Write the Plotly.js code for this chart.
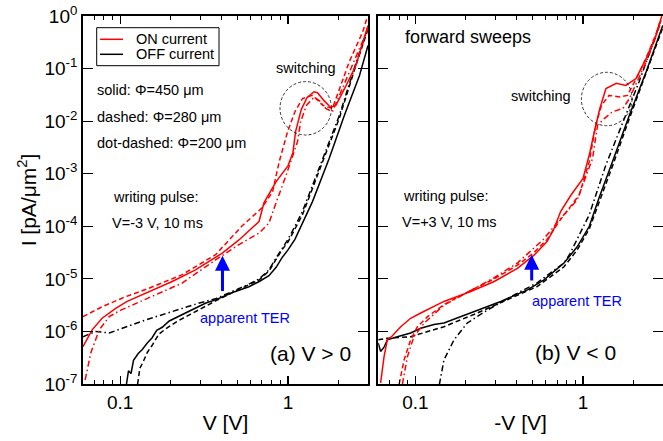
<!DOCTYPE html>
<html><head><meta charset="utf-8">
<script src="https://cdn.plot.ly/plotly-3.0.1.min.js"></script>
<style>body{margin:0;padding:0;background:#fff}#chart{width:663px;height:441px}</style>
</head><body><div id="chart"></div>
<script>
// ---------- Panel (a) V > 0 ----------
const V_on450_pos = [0.06,0.068,0.078,0.094,0.11,0.148,0.204,0.281,0.406,0.51,0.672,0.72,0.85,1.0,1.07,1.11,1.2,1.3,1.43,1.5,1.65,1.8,1.93,2.2,2.54,2.92,3.0];
const I_on450_pos = [5.13e-7,1.07e-6,1.78e-6,2.75e-6,3.72e-6,5.75e-6,8.91e-6,1.48e-5,3.09e-5,5.50e-5,1.23e-4,2.82e-4,7.08e-4,1.41e-3,2.51e-3,6.31e-3,1.66e-2,2.82e-2,3.63e-2,3.47e-2,2.40e-2,1.82e-2,2.0e-2,4.47e-2,0.115,0.50,0.66];
const V_on280_pos = [0.06,0.078,0.1076,0.148,0.234,0.37,0.53,0.70,0.81,0.887,0.995,1.10,1.22,1.40,1.61,1.84,2.32,2.79,2.95];
const I_on280_pos = [1.91e-6,2.95e-6,4.57e-6,6.61e-6,1.20e-5,2.88e-5,1.0e-4,2.24e-4,4.57e-4,1.70e-3,6.31e-3,1.51e-2,2.69e-2,3.09e-2,2.0e-2,1.74e-2,0.135,0.50,0.89];
const V_on200_pos = [0.0618,0.0669,0.075,0.086,0.1,0.148,0.234,0.37,0.51,0.672,0.77,0.85,0.977,1.14,1.19,1.29,1.43,1.55,1.68,1.84,2.42,3.0];
const I_on200_pos = [1.20e-7,3.98e-7,1.07e-6,1.91e-6,2.51e-6,4.37e-6,8.32e-6,2.29e-5,4.47e-5,7.41e-5,1.15e-4,2.82e-4,9.55e-4,4.07e-3,9.77e-3,2.0e-2,2.88e-2,2.40e-2,1.74e-2,1.51e-2,0.115,0.575];
const V_off450_pos = [0.109,0.112,0.116,0.120,0.128,0.135,0.145,0.155,0.165,0.178,0.196,0.214,0.246,0.28,0.324,0.37,0.467,0.585,0.674,0.77,0.85,0.92,1.0,1.10,1.2,1.40,1.76,2.17,2.67,3.0];
const I_off450_pos = [1.0e-7,1.78e-7,1.58e-7,2.82e-7,3.80e-7,4.47e-7,6.03e-7,7.59e-7,1.05e-6,1.20e-6,1.58e-6,1.82e-6,2.24e-6,2.75e-6,3.47e-6,3.98e-6,5.50e-6,7.08e-6,8.91e-6,1.15e-5,1.66e-5,2.51e-5,3.55e-5,5.62e-5,1.0e-4,2.95e-4,1.95e-3,1.29e-2,7.41e-2,0.275];
const V_off280_pos = [0.127,0.131,0.136,0.145,0.156,0.170,0.187,0.22,0.26,0.296,0.37,0.467,0.585,0.674,0.77,0.85,0.92,1.0,1.10,1.22,1.61,2.02,2.54,2.92,3.0];
const I_off280_pos = [1.0e-7,2.0e-7,2.51e-7,3.98e-7,5.62e-7,8.91e-7,1.12e-6,1.58e-6,2.09e-6,2.63e-6,3.80e-6,5.50e-6,7.59e-6,9.55e-6,1.41e-5,2.40e-5,3.55e-5,5.01e-5,8.91e-5,1.66e-4,1.70e-3,1.12e-2,0.115,0.427,0.562];
const V_off200_pos = [0.06,0.0716,0.086,0.108,0.142,0.205,0.296,0.37,0.467,0.585,0.674,0.77,0.85,0.92,1.0,1.10,1.22,1.61,2.02,2.54,2.92,3.0];
const I_off200_pos = [7.94e-7,1.0e-6,9.33e-7,1.23e-6,1.66e-6,2.40e-6,3.47e-6,4.17e-6,5.75e-6,7.94e-6,1.0e-5,1.48e-5,2.51e-5,3.80e-5,5.62e-5,1.0e-4,1.91e-4,1.91e-3,1.26e-2,0.126,0.468,0.603];

// ---------- Panel (b) V < 0 (plotted vs -V) ----------
const V_on450_neg = [0.062,0.065,0.068,0.072,0.0817,0.0937,0.1076,0.148,0.214,0.295,0.406,0.51,0.61,0.67,0.735,0.85,1.0,1.09,1.18,1.26,1.37,1.58,1.80,2.07,2.38,2.72,2.92];
const I_on450_neg = [1.05e-7,3.31e-7,6.92e-7,7.94e-7,1.23e-6,1.78e-6,2.24e-6,3.72e-6,5.75e-6,8.91e-6,1.58e-5,2.82e-5,5.13e-5,8.91e-5,1.91e-4,3.98e-4,8.13e-4,2.29e-3,7.24e-3,1.74e-2,4.17e-2,5.25e-2,4.79e-2,6.46e-2,0.155,0.427,0.891];
const V_on280_neg = [0.080,0.0856,0.0937,0.1028,0.118,0.148,0.214,0.295,0.406,0.51,0.61,0.72,0.95,1.09,1.19,1.29,1.43,1.65,1.84,2.07,2.38,2.72,2.95];
const I_on280_neg = [1.0e-7,2.88e-7,6.92e-7,1.23e-6,1.91e-6,3.24e-6,6.03e-6,1.0e-5,1.82e-5,3.16e-5,5.62e-5,1.23e-4,3.98e-4,1.70e-3,8.32e-3,2.0e-2,3.09e-2,2.88e-2,3.09e-2,6.31e-2,0.158,0.447,1.0];
const V_on200_neg = [0.0837,0.0896,0.098,0.113,0.148,0.214,0.295,0.406,0.58,0.735,0.923,1.14,1.22,1.34,1.5,1.73,1.89,2.1,2.4,2.72,2.95];
const I_on200_neg = [1.0e-7,3.31e-7,7.94e-7,1.45e-6,3.16e-6,6.03e-6,1.05e-5,2.0e-5,5.62e-5,1.41e-4,3.16e-4,1.95e-3,8.32e-3,1.12e-2,1.51e-2,1.74e-2,2.69e-2,5.62e-2,0.141,0.398,0.891];
const V_off450_neg = [0.06,0.062,0.065,0.068,0.078,0.0937,0.1076,0.129,0.148,0.186,0.234,0.323,0.466,0.585,0.77,0.923,1.09,1.25,1.5,1.89,2.38,2.99];
const I_off450_neg = [6.03e-7,4.17e-7,5.01e-7,6.92e-7,7.94e-7,9.33e-7,1.15e-6,1.35e-6,1.45e-6,1.91e-6,2.57e-6,3.72e-6,6.17e-6,9.55e-6,2.0e-5,4.07e-5,1.0e-4,3.55e-4,1.70e-3,1.29e-2,8.71e-2,0.661];
const V_off280_neg = [0.06,0.068,0.0937,0.148,0.234,0.37,0.53,0.77,0.923,1.09,1.25,1.5,1.89,2.38,2.99];
const I_off280_neg = [6.92e-7,7.41e-7,7.94e-7,1.23e-6,2.24e-6,4.27e-6,7.08e-6,1.70e-5,3.55e-5,8.91e-5,2.82e-4,1.41e-3,1.12e-2,7.94e-2,0.603];
const V_off200_neg = [0.139,0.148,0.17,0.204,0.27,0.37,0.53,0.77,0.83,1.09,1.37,1.73,2.16,2.72,2.9];
const I_off200_neg = [9.77e-8,2.88e-7,6.92e-7,1.45e-6,2.57e-6,4.57e-6,8.32e-6,2.0e-5,2.88e-5,1.66e-4,1.48e-3,9.77e-3,5.62e-2,0.427,0.794];

// apparent TER arrows: [V, I_from, I_to]
const terArrowPos = [0.407, 5.5e-6, 2.75e-5];
const terArrowNeg = [0.494, 8.7e-6, 2.88e-5];

const yTickVals = [1e-7,1e-6,1e-5,1e-4,1e-3,1e-2,1e-1,1];
const yTickText = ['10<sup>-7</sup>','10<sup>-6</sup>','10<sup>-5</sup>','10<sup>-4</sup>','10<sup>-3</sup>','10<sup>-2</sup>','10<sup>-1</sup>','10<sup>0</sup>'];
const xTickVals = [0.1, 1];
const xTickText = ['0.1', '1'];
const xMinorVals = [0.06,0.07,0.08,0.09,0.2,0.3,0.4,0.5,0.6,0.7,0.8,0.9,2,3];

const RED = '#ff0000', BLACK = '#000000';
const DASH = '5px,3px', DASHDOT = '6px,3px,1.5px,3px';
const FONT = 'Liberation Sans, Arial, Helvetica, sans-serif';

function tr(x, y, color, dash, xa, ya) {
  return {x: x, y: y, type: 'scatter', mode: 'lines', xaxis: xa, yaxis: ya,
    line: {color: color, width: 1.5, dash: dash}, showlegend: false, hoverinfo: 'skip'};
}
const data = [
  tr(V_off450_pos, I_off450_pos, BLACK, 'solid', 'x', 'y'),
  tr(V_off280_pos, I_off280_pos, BLACK, DASH, 'x', 'y'),
  tr(V_off200_pos, I_off200_pos, BLACK, DASHDOT, 'x', 'y'),
  tr(V_on450_pos, I_on450_pos, RED, 'solid', 'x', 'y'),
  tr(V_on280_pos, I_on280_pos, RED, DASH, 'x', 'y'),
  tr(V_on200_pos, I_on200_pos, RED, DASHDOT, 'x', 'y'),
  tr(V_off450_neg, I_off450_neg, BLACK, 'solid', 'x2', 'y2'),
  tr(V_off280_neg, I_off280_neg, BLACK, DASH, 'x2', 'y2'),
  tr(V_off200_neg, I_off200_neg, BLACK, DASHDOT, 'x2', 'y2'),
  tr(V_on450_neg, I_on450_neg, RED, 'solid', 'x2', 'y2'),
  tr(V_on280_neg, I_on280_neg, RED, DASH, 'x2', 'y2'),
  tr(V_on200_neg, I_on200_neg, RED, DASHDOT, 'x2', 'y2')
];

const xRange = [Math.log10(0.06), Math.log10(3)];
const yRange = [-7, 0];
function xaxis(domain, title, anchor) {
  return {type: 'log', domain: domain, range: xRange, anchor: anchor,
    tickmode: 'array', tickvals: xTickVals, ticktext: xTickText,
    ticks: 'inside', ticklen: 8, tickwidth: 1.2, tickcolor: '#000',
    minor: {tickmode: 'array', tickvals: xMinorVals, ticks: 'inside', ticklen: 4, tickwidth: 1, tickcolor: '#000'},
    showline: true, linecolor: '#000', linewidth: 1.8, mirror: 'ticks',
    showgrid: false, zeroline: false,
    tickfont: {family: FONT, size: 19, color: '#000'},
    title: {text: title, font: {family: FONT, size: 21, color: '#000'}, standoff: 4}};
}
function yaxis(anchor, labels) {
  return {type: 'log', domain: [0, 1], range: yRange, anchor: anchor,
    tickmode: 'array', tickvals: yTickVals, ticktext: yTickText, showticklabels: labels,
    ticks: 'inside', ticklen: 10, tickwidth: 1.2, tickcolor: '#000',
    showline: true, linecolor: '#000', linewidth: 1.8, mirror: 'ticks',
    showgrid: false, zeroline: false,
    tickfont: {family: FONT, size: 19, color: '#000'}};
}

const px = v => (v - 83) / 580;
const py = v => (384 - v) / 368;

function txt(text, x, y, size, anchor, color) {
  return {text: text, xref: 'paper', yref: 'paper', x: px(x), y: py(y), showarrow: false,
    xanchor: anchor || 'left', yanchor: 'middle', font: {family: FONT, size: size, color: color || '#000'}};
}
function arrow(a, xa, ya) {
  return {xref: xa, yref: ya, axref: xa, ayref: ya,
    x: Math.log10(a[0]), y: Math.log10(a[2]), ax: Math.log10(a[0]), ay: Math.log10(a[1]),
    showarrow: true, arrowhead: 2, arrowsize: 1, arrowwidth: 3, arrowcolor: '#0000ff', text: ''};
}

const layout = {
  width: 663, height: 441,
  margin: {l: 83, r: 0, t: 16, b: 57, pad: 0},
  paper_bgcolor: '#fff', plot_bgcolor: '#fff',
  showlegend: false,
  xaxis: xaxis([0, 0.4914], 'V [V]', 'y'),
  yaxis: Object.assign(yaxis('x', true), {title: {text: 'I [pA/μm<sup>2</sup>]', font: {family: FONT, size: 21, color: '#000'}, standoff: 2}}),
  xaxis2: xaxis([0.509, 1], '-V [V]', 'y2'),
  yaxis2: yaxis('x2', false),
  shapes: [
    {type: 'rect', xref: 'paper', yref: 'paper', x0: px(96.7), x1: px(219), y0: py(65.7), y1: py(27.7), line: {color: '#000', width: 1}},
    {type: 'line', xref: 'paper', yref: 'paper', x0: px(100), x1: px(123), y0: py(39.3), y1: py(39.3), line: {color: RED, width: 1.5}},
    {type: 'line', xref: 'paper', yref: 'paper', x0: px(100), x1: px(123), y0: py(54.3), y1: py(54.3), line: {color: BLACK, width: 1.5}},
    {type: 'circle', xref: 'paper', yref: 'paper', x0: px(280), x1: px(331.4), y0: py(135), y1: py(81.6), line: {color: '#000', width: 0.8, dash: '3px,2px'}},
    {type: 'circle', xref: 'paper', yref: 'paper', x0: px(581.4), x1: px(632), y0: py(125.7), y1: py(72.3), line: {color: '#000', width: 0.8, dash: '3px,2px'}}
  ],
  annotations: [
    txt('ON current', 134, 39.3, 14.5),
    txt('OFF current', 134, 54.3, 14.5),
    txt('solid: Φ=450 μm', 95, 90, 14.5),
    txt('dashed: Φ=280 μm', 95, 116.7, 14.5),
    txt('dot-dashed: Φ=200 μm', 95, 143.3, 14.5),
    txt('writing pulse:', 110.7, 196.7, 14.5),
    txt('V=-3 V, 10 ms', 110, 222.5, 14.5),
    txt('switching', 306, 68.3, 14.5, 'center'),
    txt('apparent TER', 245, 317.7, 14.5, 'center', '#0000ff'),
    txt('(a) V &gt; 0', 310, 353.3, 21, 'center'),
    txt('forward sweeps', 403.3, 36.7, 18),
    txt('switching', 541, 95.7, 14.5, 'center'),
    txt('writing pulse:', 400.7, 196, 14.5),
    txt('V=+3 V, 10 ms', 400, 222, 14.5),
    txt('apparent TER', 577.3, 301, 14.5, 'center', '#0000ff'),
    txt('(b) V &lt; 0', 575, 352.7, 21, 'center'),
    arrow(terArrowPos, 'x', 'y'),
    arrow(terArrowNeg, 'x2', 'y2')
  ]
};

Plotly.newPlot('chart', data, layout, {staticPlot: true, displayModeBar: false});
</script>
</body></html>
